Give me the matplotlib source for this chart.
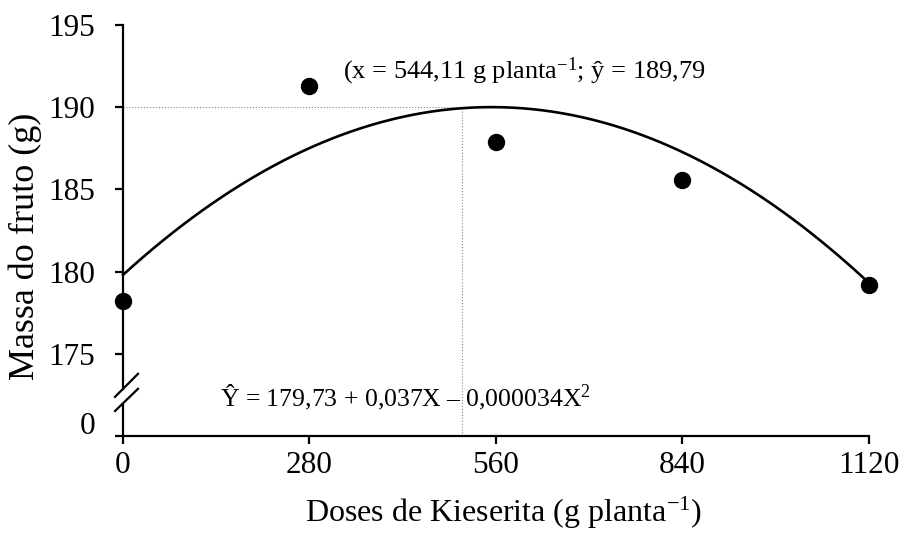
import numpy as np
import matplotlib
matplotlib.use("Agg")
import matplotlib.pyplot as plt

plt.rcParams['font.family'] = ['Liberation Serif', 'DejaVu Serif']
plt.rcParams['mathtext.fontset'] = 'custom'
plt.rcParams['mathtext.rm'] = 'Liberation Serif'
plt.rcParams['mathtext.it'] = 'Liberation Serif:italic'

# Data
doses = [0, 280, 560, 840, 1120]
massa = [178.2, 191.3, 187.9, 185.6, 179.2]
xticks = [0, 280, 560, 840, 1120]
yticks = [175, 180, 185, 190, 195]
# fitted quadratic trend (as drawn): y = a + b x + c x^2
trend_coef = [-3.332e-5, 0.03688, 179.8]
guide_x = 509
guide_y = 190

W, H = 904, 533
fig = plt.figure(figsize=(W / 100, H / 100), dpi=100)
ax = fig.add_axes([123 / W, 1 - 436 / H, 746 / W, 411 / H])

ax.set_xlim(0, 1120)
ax.set_ylim(170, 195)

xs = np.linspace(0, 1120, 300)
ax.plot(xs, np.polyval(trend_coef, xs), color='black', lw=1.9, zorder=3, clip_on=False)
ax.plot(doses, massa, 'o', color='black', markersize=11.5, zorder=4, clip_on=False)

# guide lines
ax.plot([0, guide_x], [guide_y, guide_y], color='#888888', lw=0.8, ls=':', zorder=2)
ax.plot([guide_x, guide_x], [170, guide_y], color='#888888', lw=0.8, ls=':', zorder=2)

for s in ['top', 'right']:
    ax.spines[s].set_visible(False)
for s in ['left', 'bottom']:
    ax.spines[s].set_linewidth(1.6)
ax.spines['left'].set_bounds(172.87, 195)
ax.plot([0, 0], [170, 172.01], color='black', lw=1.6, clip_on=False, solid_capstyle='butt')
# break marks
ax.plot([-12, 22.5], [172.38, 173.78], color='black', lw=1.6, clip_on=False)
ax.plot([-12, 22.5], [171.52, 172.87], color='black', lw=1.6, clip_on=False)

ax.set_xticks(xticks)
ax.set_xticklabels([str(v) for v in xticks])
ax.set_yticks([170] + yticks)
ax.set_yticklabels([''] + [str(v) for v in yticks])
ax.tick_params(axis='both', direction='out', length=6, width=1.6, labelsize=22.5)
ax.tick_params(axis='y', pad=14)
ax.tick_params(axis='x', pad=5)

ax.annotate('0', xy=(0, 170), xycoords='data', xytext=(-20, 6.5),
            textcoords='offset points', ha='right', va='center', fontsize=22.5,
            annotation_clip=False)

fig.text(503 / W, 1 - 513 / H, 'Doses de Kieserita (g planta$^{-1}$)', fontsize=23,
         ha='center', va='center')
fig.text(25 / W, 1 - 246 / H, 'Massa do fruto (g)', fontsize=26, rotation=90,
         ha='center', va='center')

ax.text(330, 191.77, '(x = 544,11 g planta$^{-1}$; ŷ = 189,79', fontsize=19,
        ha='left', va='baseline')
ax.text(146, 171.77, 'Ŷ = 179,73 + 0,037X – 0,000034X$^{2}$', fontsize=18.5,
        ha='left', va='baseline')

fig.savefig('out.png', dpi=100)
